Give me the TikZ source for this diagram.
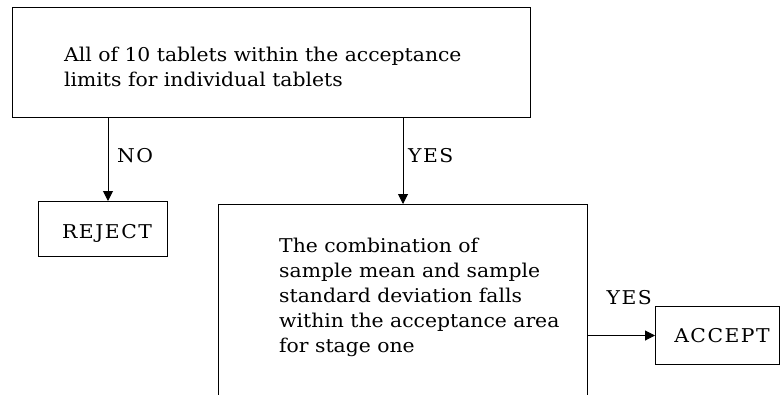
\documentclass[tikz,border=0pt]{standalone}
\usepackage{fontspec}
\setmainfont[FakeStretch=1.07]{DejaVu Serif}
\newfontfamily\capsfont[LetterSpace=8,FakeStretch=1.07]{DejaVu Serif}
\usetikzlibrary{arrows.meta,calc}
\tikzset{
  box/.style={draw=black, line width=1pt, rectangle, inner sep=0pt, anchor=north west},
  arr/.style={draw=black, line width=1pt, -{Triangle[length=10pt,width=10pt]}},
  body/.style={inner sep=0pt, align=left, anchor=north west, font=\fontsize{19}{25}\selectfont},
  lab/.style={inner sep=0pt, font=\fontsize{19}{25}\selectfont\capsfont}
}
\begin{document}
\begin{tikzpicture}[x=1pt,y=-1pt]
\useasboundingbox[fill=white] (0,0) rectangle (781,394);
\clip (0,0) rectangle (781,394);
% boxes
\node[box, minimum width=518pt, minimum height=110pt] (top) at (12,7) {};
\node[box, minimum width=129pt, minimum height=55pt] (rej) at (38,201) {};
\node[box, minimum width=369pt, minimum height=240pt] (big) at (218,204) {};
\node[box, minimum width=124pt, minimum height=58pt] (acc) at (655,306) {};
% texts
\node[body] (toptext) at (64,47) {All of 10 tablets within the acceptance\\limits for individual tablets};
\node[body] (bigtext) at (279,238) {The combination of\\sample mean and sample\\standard deviation falls\\within the acceptance area\\for stage one};
\node[lab, anchor=base] (rejtext) at (107,238) {REJECT};
\node[lab, anchor=base] (acctext) at (722,342) {ACCEPT};
% connectors
\coordinate (nox) at (108,0);
\draw[arr] (top.south -| nox) -- (rej.north -| nox);
\draw[arr] (top.south -| big.north) -- (big.north);
\draw[arr] (acc.west -| big.east) -- (acc.west);
% connector labels
\node[lab, anchor=base west] (nolab) at (117,162) {NO};
\node[lab, anchor=base west] (yeslab1) at (408,162) {YES};
\node[lab, anchor=base east] (yeslab2) at (652,304) {YES};
\end{tikzpicture}
\end{document}
